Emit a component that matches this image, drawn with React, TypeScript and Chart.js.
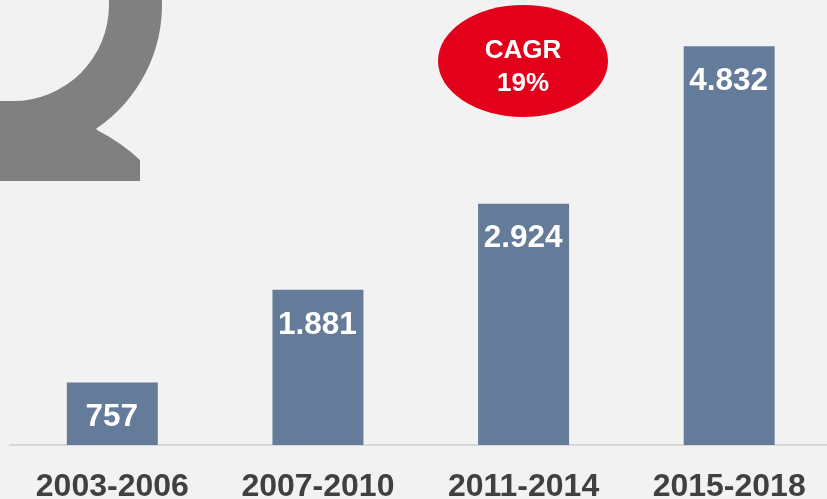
import React, { useEffect, useRef } from "react";
import { Chart, registerables } from "chart.js";

Chart.register(...registerables);

const periods = ["2003-2006", "2007-2010", "2011-2014", "2015-2018"];
const values = [757, 1881, 2924, 4832];
const valueLabels = ["757", "1.881", "2.924", "4.832"];
const badgeLines = ["CAGR", "19%"];
const FONT = '"Liberation Sans", Arial, sans-serif';

const decorations = {
  id: "decorations",
  beforeDatasetsDraw(chart: any) {
    const c = chart.ctx;
    c.save();
    // grey ring motif, top-left
    c.fillStyle = "#808080";
    c.beginPath();
    c.moveTo(162, 0);
    c.arc(13, 5, 149, Math.atan2(-5, 149), Math.atan2(125, 84));
    c.lineTo(97, 130);
    c.quadraticCurveTo(122, 143, 140, 160);
    c.lineTo(140, 181);
    c.lineTo(0, 181);
    c.lineTo(0, 101);
    c.lineTo(13, 101);
    c.arc(13, 5, 96, Math.PI / 2, Math.atan2(-5, 96), true);
    c.closePath();
    c.fill();
    // CAGR badge
    c.fillStyle = "#e3001b";
    c.beginPath();
    c.ellipse(523, 61, 85, 56, 0, 0, Math.PI * 2);
    c.fill();
    c.fillStyle = "#ffffff";
    c.font = `bold 26px ${FONT}`;
    c.textAlign = "center";
    c.textBaseline = "middle";
    c.fillText(badgeLines[0], 523, 50.5);
    c.fillText(badgeLines[1], 523, 83.5);
    c.restore();
  },
  afterDatasetsDraw(chart: any) {
    const c = chart.ctx;
    const meta = chart.getDatasetMeta(0);
    c.save();
    c.fillStyle = "#ffffff";
    c.font = `bold 31.5px ${FONT}`;
    c.textAlign = "center";
    c.textBaseline = "middle";
    meta.data.forEach((bar: any, i: number) => {
      c.fillText(valueLabels[i], bar.x - 0.5, bar.y + 35);
    });
    c.restore();
  },
};

export default function App() {
  const ref = useRef<HTMLCanvasElement>(null);
  useEffect(() => {
    const chart = new Chart(ref.current!, {
      type: "bar",
      data: {
        labels: periods,
        datasets: [
          {
            data: values,
            backgroundColor: "#647b99",
            categoryPercentage: 0.4424,
            barPercentage: 1,
          },
        ],
      },
      plugins: [decorations],
      options: {
        animation: false,
        responsive: false,
        layout: { padding: { left: 9.5, right: 0, top: 32.5, bottom: 0 } },
        plugins: { legend: { display: false }, tooltip: { enabled: false } },
        scales: {
          x: {
            afterFit(scale: any) {
              scale.height = 54;
            },
            grid: { display: false },
            border: { display: true, color: "#d9d9d9", width: 2 },
            ticks: {
              color: "#404040",
              font: { family: FONT, size: 32, weight: "bold" },
              padding: 15,
              maxRotation: 0,
              autoSkip: false,
            },
          },
          y: { display: false, min: 0, max: 5000 },
        },
      },
    } as any);
    return () => chart.destroy();
  }, []);
  return (
    <div
      style={{
        position: "fixed",
        left: 0,
        top: 0,
        width: 827,
        height: 499,
        overflow: "hidden",
        background: "#f2f2f2",
      }}
    >
      <canvas ref={ref} width={832} height={499} style={{ display: "block" }} />
    </div>
  );
}
